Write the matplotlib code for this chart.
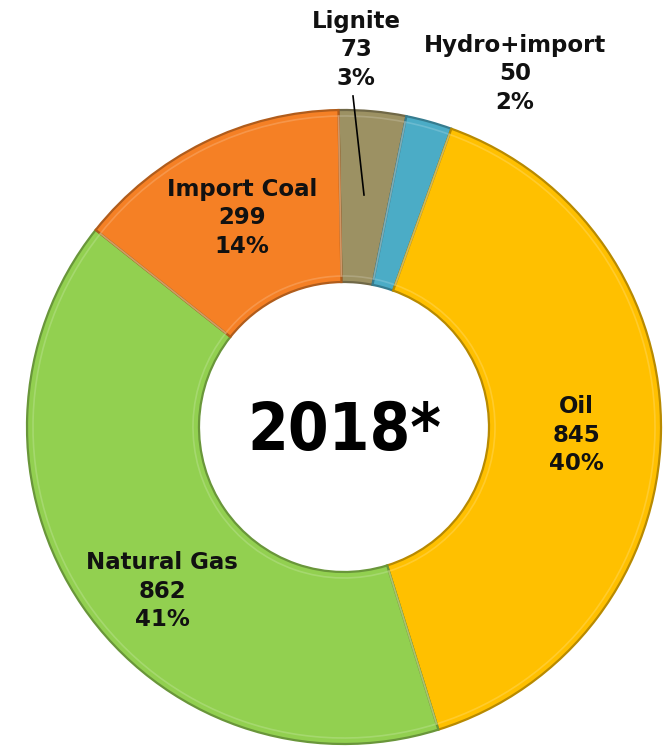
import matplotlib
matplotlib.use("Agg")
import matplotlib.pyplot as plt
import matplotlib.colors as mcolors

categories = ["Lignite", "Hydro+import", "Oil", "Natural Gas", "Import Coal"]
values = [73, 50, 845, 862, 299]
percents = ["3%", "2%", "40%", "41%", "14%"]
colors = ["#9C9163", "#4BACC6", "#FFC000", "#92D050", "#F58025"]
center_label = "2018*"

W, H = 665, 749
fig = plt.figure(figsize=(W / 100, H / 100), dpi=100)
ax = fig.add_axes([0, 0, 1, 1])

cx, cy, R = 344, H - 427, 317
inner = 145

def darker(c, f=0.7):
    r, g, b = mcolors.to_rgb(c)
    return (r * f, g * f, b * f)

wedges, _ = ax.pie(values, colors=colors, startangle=91, counterclock=False,
                   center=(cx, cy), radius=R, frame=True,
                   wedgeprops=dict(width=R - inner, linewidth=1.6))
for w, c in zip(wedges, colors):
    w.set_edgecolor(darker(c, 0.72))
hl, _ = ax.pie(values, colors=["none"] * len(values), startangle=91, counterclock=False,
               center=(cx, cy), radius=R - 6, frame=True,
               wedgeprops=dict(width=R - inner - 12, linewidth=1.2))
for w, c in zip(hl, colors):
    r, g, b = mcolors.to_rgb(c)
    w.set_edgecolor((min(1, r * 0.5 + 0.5), min(1, g * 0.5 + 0.5), min(1, b * 0.5 + 0.5), 0.35))
ax.set_xlim(0, W)
ax.set_ylim(0, H)
ax.set_aspect("equal")
ax.axis("off")

label_pos = {
    "Lignite": (356, H - 50),
    "Hydro+import": (515, H - 74),
    "Oil": (576, H - 435),
    "Natural Gas": (162, H - 591),
    "Import Coal": (242, H - 218),
}
for cat, v, p in zip(categories, values, percents):
    x, y = label_pos[cat]
    ax.text(x, y, f"{cat}\n{v}\n{p}", ha="center", va="center", fontsize=16.5,
            fontweight="bold", linespacing=1.28,
            color="#111111", family="DejaVu Sans")

ax.plot([353, 364], [H - 96, H - 195], color="black", linewidth=1.2)

ax.text(cx, cy - 5, center_label, ha="center", va="center", fontsize=47,
        fontweight="bold", fontstretch="condensed", color="black",
        family="DejaVu Sans")

fig.savefig("out.png", dpi=100, facecolor="white")
